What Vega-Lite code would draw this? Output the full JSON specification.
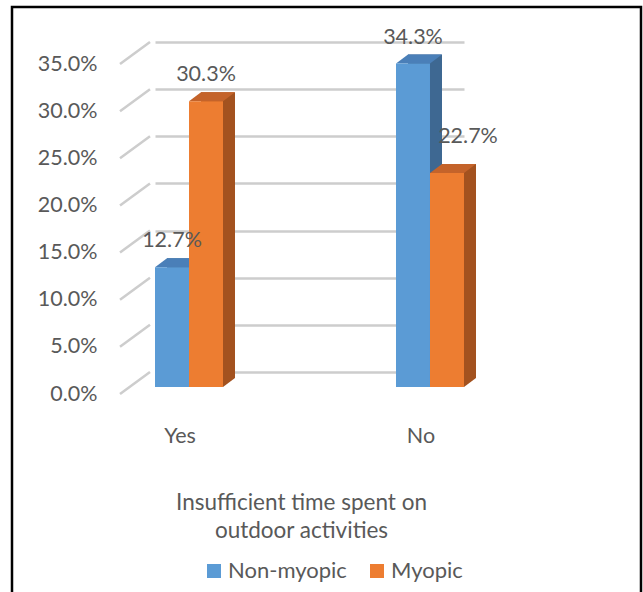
{
  "$schema": "https://vega.github.io/schema/vega-lite/v6.json",
  "width": 481,
  "height": 330,
  "autosize": {"type": "none"},
  "padding": {"left": 150, "top": 57, "right": 12, "bottom": 205},
  "background": "#ffffff",
  "config": {"view": {"stroke": null}, "font": "Lato"},
  "data": {
    "values": [
      {"outdoor": "Yes", "series": "Non-myopic", "pct": 0.127},
      {"outdoor": "Yes", "series": "Myopic", "pct": 0.303},
      {"outdoor": "No", "series": "Non-myopic", "pct": 0.343},
      {"outdoor": "No", "series": "Myopic", "pct": 0.227}
    ]
  },
  "layer": [
    {
      "data": {"values": [{}]},
      "mark": {"type": "rect", "x": -138, "x2": 491, "y": -50, "y2": 545, "filled": false, "stroke": "#000000", "strokeWidth": 2.5},
      "encoding": {}
    },
    {
      "data": {"values": [{"t": 0}, {"t": 0.05}, {"t": 0.1}, {"t": 0.15}, {"t": 0.2}, {"t": 0.25}, {"t": 0.3}, {"t": 0.35}]},
      "mark": {"type": "rule", "color": "#cdcdcd", "strokeWidth": 2.5, "yOffset": 7, "y2Offset": -15},
      "encoding": {
        "x": {"value": -30},
        "x2": {"value": 0},
        "y": {
          "field": "t", "type": "quantitative",
          "scale": {"domain": [0, 0.35], "nice": false},
          "axis": {
            "values": [0, 0.05, 0.1, 0.15, 0.2, 0.25, 0.3, 0.35],
            "format": ".1%", "title": null, "domain": false, "ticks": false, "tickSize": 0,
            "labelPadding": 53, "labelFontSize": 21.5, "labelColor": "#595959", "labelFont": "Lato",
            "grid": true, "gridColor": "#cdcdcd", "gridWidth": 2.5,
            "tickOffset": -15, "labelOffset": 22
          }
        },
        "y2": {"field": "t"}
      }
    },
    {
      "transform": [{"filter": "datum.series === 'Non-myopic'"}],
      "mark": {"type": "bar", "width": 34, "xOffset": -5, "yOffset": -9, "y2Offset": -9, "color": "#3e6892"},
      "encoding": {
        "x": {
          "field": "outdoor", "type": "nominal", "sort": ["Yes", "No"],
          "scale": {"domain": ["Yes", "No"], "range": [5, 314], "paddingInner": 0.71784, "paddingOuter": 0},
          "axis": {
            "title": ["Insufficient time spent on", "outdoor activities"],
            "titleX": 151, "titleY": 122, "titleAlign": "center", "titleBaseline": "alphabetic",
            "titleFontSize": 22.5, "titleFontWeight": "normal", "titleColor": "#595959", "titleFont": "Lato", "titleLineHeight": 28,
            "labelFontSize": 21.5, "labelColor": "#595959", "labelFont": "Lato", "labelOffset": -9, "labelPadding": 55,
            "labelBaseline": "alphabetic", "labelAngle": 0, "domain": false, "ticks": false, "tickSize": 0
          }
        },
        "y": {"field": "pct", "type": "quantitative", "scale": {"domain": [0, 0.35], "nice": false}},
        "y2": {"datum": 0}
      }
    },
    {
      "transform": [{"filter": "datum.series === 'Non-myopic'"}],
      "mark": {"type": "point", "shape": "M17,0L17,-9L29,-9Z", "size": 4, "filled": true, "opacity": 1, "color": "#3e6892", "strokeWidth": 0, "xOffset": -17},
      "encoding": {
        "x": {"field": "outdoor", "type": "nominal"},
        "y": {"datum": 0, "type": "quantitative"}
      }
    },
    {
      "transform": [{"filter": "datum.series === 'Non-myopic'"}],
      "mark": {"type": "point", "shape": "M-17,0L17,0L29,-9L-5,-9Z", "size": 4, "filled": true, "opacity": 1, "color": "#4a7fb8", "strokeWidth": 0, "xOffset": -17},
      "encoding": {
        "x": {"field": "outdoor", "type": "nominal"},
        "y": {"field": "pct", "type": "quantitative", "scale": {"domain": [0, 0.35], "nice": false}}
      }
    },
    {
      "transform": [{"filter": "datum.series === 'Non-myopic'"}],
      "mark": {"type": "bar", "width": 34, "xOffset": -17},
      "encoding": {
        "x": {"field": "outdoor", "type": "nominal"},
        "y": {"field": "pct", "type": "quantitative", "scale": {"domain": [0, 0.35], "nice": false}},
        "y2": {"datum": 0},
        "color": {
          "field": "series", "type": "nominal",
          "scale": {"domain": ["Non-myopic", "Myopic"], "range": ["#5b9bd5", "#ed7d31"]},
          "legend": {
            "orient": "none", "legendX": 53, "legendY": 503, "direction": "horizontal", "title": null,
            "symbolType": "square", "symbolSize": 196, "symbolStrokeWidth": 0,
            "labelFontSize": 22, "labelFont": "Lato", "labelColor": "#595959", "labelOffset": 3,
            "columnPadding": 19, "padding": 0
          }
        }
      }
    },
    {
      "transform": [{"filter": "datum.series === 'Myopic'"}],
      "mark": {"type": "bar", "width": 34, "xOffset": 29, "yOffset": -9, "y2Offset": -9, "color": "#a3521f"},
      "encoding": {
        "x": {"field": "outdoor", "type": "nominal"},
        "y": {"field": "pct", "type": "quantitative", "scale": {"domain": [0, 0.35], "nice": false}},
        "y2": {"datum": 0}
      }
    },
    {
      "transform": [{"filter": "datum.series === 'Myopic'"}],
      "mark": {"type": "point", "shape": "M17,0L17,-9L29,-9Z", "size": 4, "filled": true, "opacity": 1, "color": "#a3521f", "strokeWidth": 0, "xOffset": 17},
      "encoding": {
        "x": {"field": "outdoor", "type": "nominal"},
        "y": {"datum": 0, "type": "quantitative"}
      }
    },
    {
      "transform": [{"filter": "datum.series === 'Myopic'"}],
      "mark": {"type": "point", "shape": "M-17,0L17,0L29,-9L-5,-9Z", "size": 4, "filled": true, "opacity": 1, "color": "#c4632a", "strokeWidth": 0, "xOffset": 17},
      "encoding": {
        "x": {"field": "outdoor", "type": "nominal"},
        "y": {"field": "pct", "type": "quantitative", "scale": {"domain": [0, 0.35], "nice": false}}
      }
    },
    {
      "transform": [{"filter": "datum.series === 'Myopic'"}],
      "mark": {"type": "bar", "width": 34, "xOffset": 17},
      "encoding": {
        "x": {"field": "outdoor", "type": "nominal"},
        "y": {"field": "pct", "type": "quantitative", "scale": {"domain": [0, 0.35], "nice": false}},
        "y2": {"datum": 0},
        "color": {"field": "series", "type": "nominal"}
      }
    },
    {
      "transform": [{"filter": "datum.series === 'Non-myopic'"}],
      "mark": {"type": "text", "dx": -17, "dy": -26, "fontSize": 21.5, "font": "Lato", "color": "#595959"},
      "encoding": {
        "x": {"field": "outdoor", "type": "nominal"},
        "y": {"field": "pct", "type": "quantitative", "scale": {"domain": [0, 0.35], "nice": false}},
        "text": {"field": "pct", "type": "quantitative", "format": ".1%"}
      }
    },
    {
      "transform": [{"filter": "datum.series === 'Myopic' && datum.outdoor === 'Yes'"}],
      "mark": {"type": "text", "dx": 17, "dy": -26, "fontSize": 21.5, "font": "Lato", "color": "#595959"},
      "encoding": {
        "x": {"field": "outdoor", "type": "nominal"},
        "y": {"field": "pct", "type": "quantitative", "scale": {"domain": [0, 0.35], "nice": false}},
        "text": {"field": "pct", "type": "quantitative", "format": ".1%"}
      }
    },
    {
      "transform": [{"filter": "datum.series === 'Myopic' && datum.outdoor === 'No'"}],
      "mark": {"type": "text", "dx": 38, "dy": -36, "fontSize": 21.5, "font": "Lato", "color": "#595959"},
      "encoding": {
        "x": {"field": "outdoor", "type": "nominal"},
        "y": {"field": "pct", "type": "quantitative", "scale": {"domain": [0, 0.35], "nice": false}},
        "text": {"field": "pct", "type": "quantitative", "format": ".1%"}
      }
    }
  ]
}
